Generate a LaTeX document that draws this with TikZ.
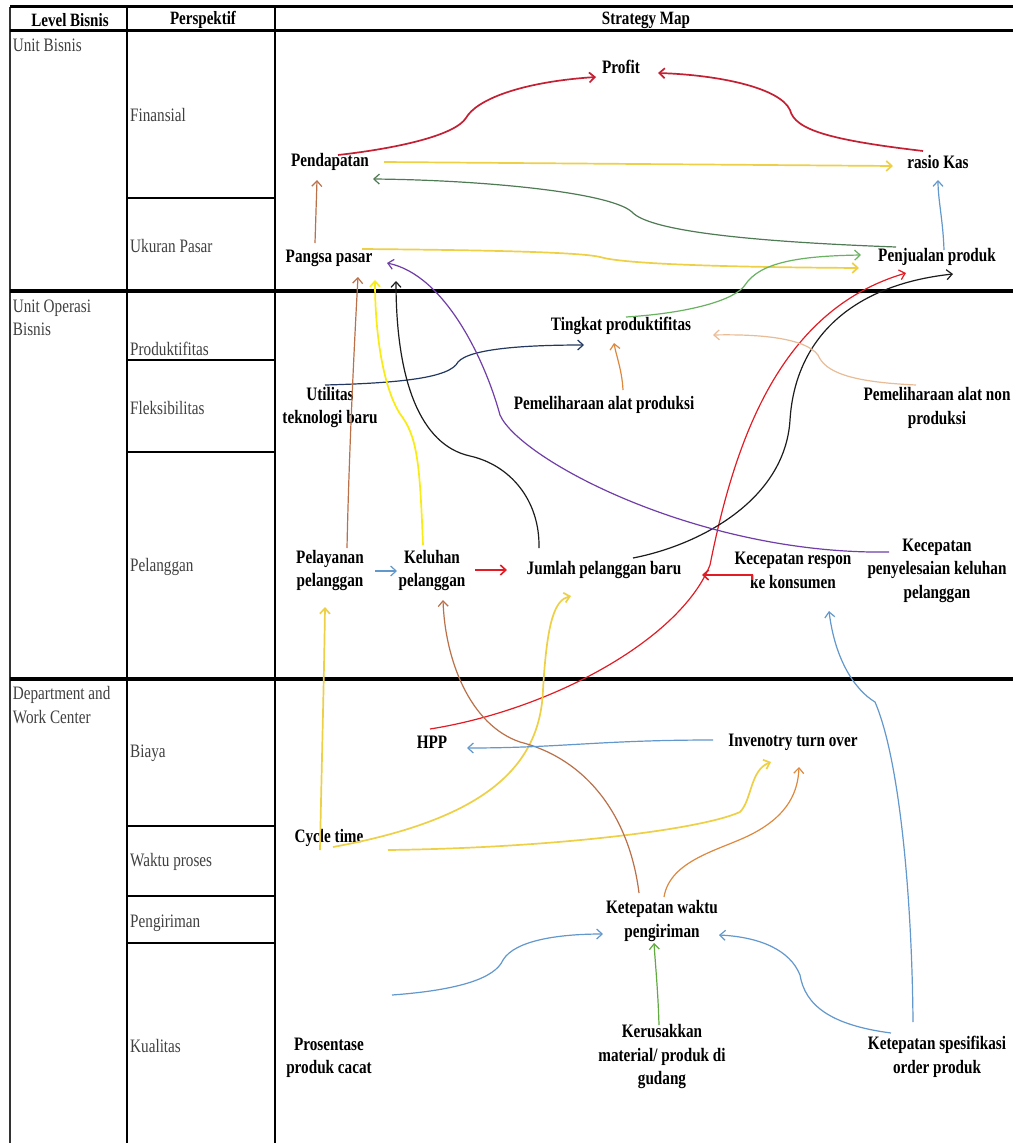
\documentclass[tikz,border=0pt]{standalone}
\usepackage{fontspec}
\setmainfont{Liberation Serif}[FakeStretch=0.8]
\usetikzlibrary{arrows.meta,calc}

\definecolor{cRedDeep}{RGB}{196,32,52}
\definecolor{cRed}{RGB}{226,28,36}
\definecolor{cGold}{RGB}{238,208,70}
\definecolor{cYellow}{RGB}{248,236,20}
\definecolor{cGreenD}{RGB}{78,122,84}
\definecolor{cGreenL}{RGB}{104,178,96}
\definecolor{cGreen}{RGB}{96,170,64}
\definecolor{cBlue}{RGB}{98,152,204}
\definecolor{cBrown}{RGB}{186,112,72}
\definecolor{cOrange}{RGB}{222,136,62}
\definecolor{cTan}{RGB}{232,188,150}
\definecolor{cNavy}{RGB}{34,56,96}
\definecolor{cPurple}{RGB}{112,62,168}
\definecolor{cInk}{RGB}{28,28,28}
\definecolor{cLabel}{RGB}{64,64,64}

\begin{document}
\begin{tikzpicture}[x=1pt,y=-1pt,
  lbl/.style={font=\bfseries\fontsize{19}{23.5}\selectfont, align=center, inner sep=0pt},
  rowlbl/.style={font=\fontsize{19}{23.5}\selectfont, text=cLabel, align=left, anchor=west, inner sep=0pt},
  hdr/.style={font=\bfseries\fontsize{18.8}{20}\selectfont, inner sep=0pt},
  conn/.style={line width=1.2pt, -{Straight Barb[length=5.5pt,width=10pt]}},
  thick conn/.style={conn, line width=1.7pt},
  tline/.style={line width=3.3pt},
  vline/.style={line width=2.4pt},
  subline/.style={line width=2.8pt}
]
\fill[white] (0,0) rectangle (1013,1143);
\useasboundingbox (0,0) rectangle (1013,1143);

% ---------- table frame ----------
\draw[line width=1.6pt, black!80] (10,6.7) -- (10,1143);
\draw[vline] (127,6.7) -- (127,1143);
\draw[vline] (275,6.7) -- (275,1143);
\draw[tline] (10,6.7) -- (1013,6.7);
\draw[tline] (10,30.7) -- (1013,30.7);
\draw[tline] (10,291) -- (1013,291);
\draw[tline] (10,679) -- (1013,679);
\foreach \yy in {198,360,452,826,896,943}
  \draw[subline] (127,\yy) -- (275,\yy);

% ---------- headers ----------
\node[hdr] (hlevel) at (70,20) {Level Bisnis};
\node[hdr] (hpersp) at (203,20) {Perspektif};
\node[hdr] (hmap) at (646,20) {Strategy Map};

% ---------- row labels ----------
\node[rowlbl] (lUB) at (12.7,45) {Unit Bisnis};
\node[rowlbl] (lFin) at (130,115) {Finansial};
\node[rowlbl] (lUkur) at (130,246) {Ukuran Pasar};
\node[rowlbl] (lUOB) at (12.7,318) {Unit Operasi\\Bisnis};
\node[rowlbl] (lProd) at (130,349) {Produktifitas};
\node[rowlbl] (lFleks) at (130,408) {Fleksibilitas};
\node[rowlbl] (lPel) at (130,567) {Pelanggan};
\node[rowlbl] (lDept) at (12.7,705) {Department and\\Work Center};
\node[rowlbl] (lBiaya) at (130,753) {Biaya};
\node[rowlbl] (lWaktu) at (130,862) {Waktu proses};
\node[rowlbl] (lKirim) at (130,923) {Pengiriman};
\node[rowlbl] (lKual) at (130,1046) {Kualitas};

% ---------- strategy map objectives ----------
\node[lbl] (profit) at (621,67) {Profit};
\node[lbl] (pend) at (330,162) {Pendapatan};
\node[lbl] (rkas) at (938,162) {rasio Kas};
\node[lbl] (pangsa) at (329,258) {Pangsa pasar};
\node[lbl] (penj) at (937,257) {Penjualan produk};
\node[lbl] (tingkat) at (621,326) {Tingkat produktifitas};
\node[lbl] (util) at (330,407.5) {Utilitas\\teknologi baru};
\node[lbl] (pap) at (604,405) {Pemeliharaan alat produksi};
\node[lbl] (papn) at (937,408) {Pemeliharaan alat non\\produksi};
\node[lbl] (pelay) at (330,570.5) {Pelayanan\\pelanggan};
\node[lbl] (kel) at (432,570.5) {Keluhan\\pelanggan};
\node[lbl] (jumlah) at (604,570) {Jumlah pelanggan baru};
\node[lbl] (krespon) at (793,570.5) {Kecepatan respon\\ke konsumen};
\node[lbl] (kpenyel) at (937,570.5) {Kecepatan\\penyelesaian keluhan\\pelanggan};
\node[lbl] (hpp) at (432,742) {HPP};
\node[lbl] (inv) at (793,742) {Invenotry turn over};
\node[lbl] (cycle) at (329,838) {Cycle time};
\node[lbl] (kwaktu) at (662,921) {Ketepatan waktu\\pengiriman};
\node[lbl] (kerus) at (662,1056.5) {Kerusakkan\\material/ produk di\\gudang};
\node[lbl] (pros) at (329,1058) {Prosentase\\produk cacat};
\node[lbl] (kspes) at (937,1057) {Ketepatan spesifikasi\\order produk};

% ---------- causal links ----------
% financial
\draw[thick conn, cRedDeep] ($(pend)+(8,-7)$) .. controls (400,148) and (455,135) .. (466,118)
  .. controls (476,100) and (520,82) .. ($(profit)+(-25,10)$);
\draw[thick conn, cRedDeep] ($(rkas)+(-15,-11)$) .. controls (830,140) and (795,130) .. (790,110)
  .. controls (780,88) and (720,75) .. ($(profit)+(37,6)$);
\draw[thick conn, cGold] ($(pend)+(54,0)$) -- ($(rkas)+(-45,4)$);
\draw[conn, cGreenD] ($(penj)+(-41,-10)$) .. controls (760,242) and (650,232) .. (632,212)
  .. controls (610,192) and (480,180) .. ($(pend)+(43,17)$);
\draw[conn, cBlue] ($(penj)+(7,-7)$) .. controls (943,220) and (938,200) .. ($(rkas)+(0,18)$);
\draw[conn, cBrown] ($(pangsa)+(-14,-15)$) -- ($(pend)+(-13,18)$);
\draw[thick conn, cGold] ($(pangsa)+(33,-9)$) .. controls (480,250) and (580,252) .. (600,257)
  .. controls (620,263) and (700,267) .. ($(penj)+(-78,11)$);

% market / sales
\draw[conn, cGreenL] ($(tingkat)+(5,-9)$) .. controls (690,313) and (735,300) .. (745,285)
  .. controls (760,262) and (800,256) .. ($(penj)+(-76,-2)$);
\draw[conn, cRed] ($(hpp)+(-2,-13)$) .. controls (550,710) and (680,640) .. (710,565)
  .. controls (735,440) and (780,310) .. ($(penj)+(-31,16)$);
\draw[conn, cInk] ($(jumlah)+(29,-12)$) .. controls (700,545) and (785,500) .. (790,420)
  .. controls (795,340) and (850,285) .. ($(penj)+(16,17)$);

% productivity
\draw[conn, cNavy] ($(util)+(-5,-22.5)$) .. controls (400,383) and (450,378) .. (458,362)
  .. controls (470,348) and (530,345) .. ($(tingkat)+(-37,19)$);
\draw[conn, cOrange] ($(pap)+(19,-15)$) .. controls (622,370) and (616,355) .. ($(tingkat)+(-7,17)$);
\draw[conn, cTan] ($(papn)+(-21,-23)$) .. controls (850,382) and (825,372) .. (818,355)
  .. controls (805,338) and (760,334) .. ($(tingkat)+(92,9)$);

% customer links into market share
\draw[conn, cPurple] ($(kpenyel)+(-48,-18.5)$) .. controls (700,555) and (520,460) .. (500,415)
  .. controls (485,360) and (445,275) .. ($(pangsa)+(58,5)$);
\draw[conn, cBrown] ($(pelay)+(17,-22.5)$) .. controls (349,450) and (355,330) .. ($(pangsa)+(29,19)$);
\draw[thick conn, cYellow] ($(kel)+(-9,-25.5)$) .. controls (420,470) and (418,440) .. (403,418)
  .. controls (385,395) and (375,340) .. ($(pangsa)+(46,22)$);
\draw[conn, cInk] ($(jumlah)+(-65,-22)$) .. controls (540,500) and (510,465) .. (470,456)
  .. controls (420,445) and (396,380) .. ($(pangsa)+(67,23)$);

% customer row
\draw[conn, cBlue] ($(pelay)+(45,0.5)$) -- ($(kel)+(-35,0.5)$);
\draw[conn, cRed, line width=1.6pt] ($(kel)+(43,-0.5)$) -- ($(jumlah)+(-97,0)$);
\draw[conn, cRed, line width=1.6pt] ($(krespon)+(-41,9.5)$) |- ($(jumlah)+(98,5)$);

% process level
\draw[thick conn, cGold] ($(cycle)+(-9,12)$) .. controls (322,750) and (324,680) .. ($(pelay)+(-5,36.5)$);
\draw[thick conn, cGold] ($(cycle)+(4,9)$) .. controls (480,820) and (540,770) .. (543,690)
  .. controls (547,620) and (555,600) .. ($(jumlah)+(-33,26)$);
\draw[thick conn, cGold] ($(cycle)+(59,12)$) .. controls (550,848) and (700,830) .. (740,812)
  .. controls (752,800) and (750,770) .. ($(inv)+(-22,20)$);
\draw[conn, cBrown] ($(kwaktu)+(-23,-28)$) .. controls (630,820) and (590,760) .. (520,742)
  .. controls (470,725) and (445,660) .. ($(kel)+(11,29.5)$);
\draw[conn, cOrange] ($(kwaktu)+(2,-24)$) .. controls (670,860) and (720,850) .. (750,835)
  .. controls (790,815) and (798,790) .. ($(inv)+(6,25)$);
\draw[conn, cBlue] ($(inv)+(-80,-2)$) .. controls (600,740) and (560,748) .. ($(hpp)+(35,6)$);
\draw[conn, cBlue] ($(kspes)+(-24,-35)$) .. controls (912,900) and (900,760) .. (875,702)
  .. controls (855,690) and (835,660) .. ($(krespon)+(36,40.5)$);

% quality links into delivery
\draw[conn, cBlue] ($(pros)+(63,-63)$) .. controls (460,990) and (495,978) .. (503,960)
  .. controls (515,940) and (560,934) .. ($(kwaktu)+(-59,13)$);
\draw[conn, cGreen] ($(kerus)+(-3,-31.5)$) .. controls (658,990) and (655,960) .. ($(kwaktu)+(-8,22)$);
\draw[conn, cBlue] ($(kspes)+(-46,-24)$) .. controls (830,1025) and (805,1005) .. (800,975)
  .. controls (790,950) and (760,937) .. ($(kwaktu)+(57,14)$);
\end{tikzpicture}
\end{document}
